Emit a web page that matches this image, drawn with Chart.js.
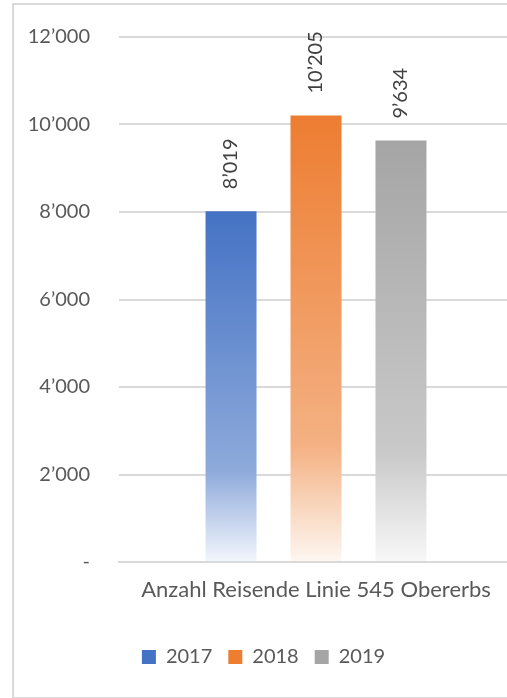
<!DOCTYPE html>
<html>
<head>
<meta charset="utf-8">
<script src="https://cdn.jsdelivr.net/npm/chart.js@4/dist/chart.umd.min.js"></script>
<style>
    html, body { margin: 0; padding: 0; background: #fff; overflow: hidden; }
    #frame {
        position: absolute; left: 12px; top: 3px;
        width: 520px; height: 692px;
        border: 2px solid #d9d9d9;
    }
    #wrap { position: absolute; left: 0; top: 0; width: 510px; height: 691px; }
</style>
</head>
<body>
<div id="frame"><div id="wrap"><canvas id="chart"></canvas></div></div>
<script>
// chart data
const categories = ['Anzahl Reisende Linie 545 Obererbs'];
const years = ['2017', '2018', '2019'];
const values2017 = [8019];
const values2018 = [10205];
const values2019 = [9634];
const yTicks = [0, 2000, 4000, 6000, 8000, 10000, 12000];

// colour stops per series: base, tint, near white
const colors = {
    '2017': ['#4472C4', '#8eaadb', '#f3f6fc'],
    '2018': ['#ED7D31', '#f4b183', '#fdf7f2'],
    '2019': ['#A5A5A5', '#c9c9c9', '#f8f8f8']
};

const textColor = '#595959';
const fontFamily = 'Lato, "Open Sans", sans-serif';

function fmt(v) {
    if (v === 0) return '-';
    return String(v).replace(/\B(?=(\d{3})+(?!\d))/g, '\u2019');
}

// gradient over each single bar, top to bottom
function barFill(year) {
    return ctx => {
        const chart = ctx.chart;
        const c = colors[year];
        if (!chart.chartArea || ctx.raw === undefined) return c[0];
        const y = chart.scales.y;
        const top = y.getPixelForValue(ctx.raw);
        const bottom = y.getPixelForValue(0);
        const g = chart.ctx.createLinearGradient(0, top, 0, bottom);
        g.addColorStop(0, c[0]);
        g.addColorStop(0.74, c[1]);
        g.addColorStop(1, c[2]);
        return g;
    };
}

// values written above the bars, turned upright
const valueLabels = {
    id: 'valueLabels',
    afterDatasetsDraw(chart) {
        const ctx = chart.ctx;
        ctx.save();
        ctx.font = '20px ' + fontFamily;
        ctx.fillStyle = '#404040';
        ctx.textAlign = 'left';
        ctx.textBaseline = 'middle';
        chart.data.datasets.forEach((ds, i) => {
            chart.getDatasetMeta(i).data.forEach((bar, j) => {
                ctx.save();
                ctx.translate(bar.x, bar.y - 22);
                ctx.rotate(-Math.PI / 2);
                ctx.fillText(fmt(ds.data[j]), 0, 0);
                ctx.restore();
            });
        });
        ctx.restore();
    }
};

const seriesData = [values2017, values2018, values2019];

new Chart(document.getElementById('chart'), {
    type: 'bar',
    data: {
        labels: categories,
        datasets: years.map((yr, i) => ({
            label: yr,
            data: seriesData[i],
            backgroundColor: barFill(yr),
            borderWidth: 0,
            categoryPercentage: 0.647,
            barPercentage: 0.6
        }))
    },
    options: {
        responsive: true,
        maintainAspectRatio: false,
        animation: false,
        layout: { padding: { top: 32, right: 11, left: 0, bottom: 19 } },
        scales: {
            x: {
                grid: { display: false, drawTicks: false },
                border: { color: '#d9d9d9', width: 2 },
                ticks: { color: textColor, font: { family: fontFamily, size: 22 }, padding: 15 },
                afterFit: s => { s.height = 69; }
            },
            y: {
                min: 0,
                max: 12000,
                afterBuildTicks: s => { s.ticks = yTicks.map(v => ({ value: v })); },
                grid: { color: '#d9d9d9', lineWidth: 2, drawTicks: false },
                border: { display: false },
                ticks: {
                    color: textColor,
                    font: { family: fontFamily, size: 20 },
                    padding: 29,
                    callback: v => fmt(v)
                },
                afterFit: s => {
                    s.width = 105;
                    s.paddingTop = 0;
                    s.paddingBottom = 0;
                }
            }
        },
        plugins: {
            legend: {
                position: 'bottom',
                labels: {
                    color: textColor,
                    font: { family: fontFamily, size: 20 },
                    boxWidth: 14,
                    boxHeight: 14,
                    padding: 16,
                    generateLabels: chart => chart.data.datasets.map((ds, i) => ({
                        text: ds.label,
                        fillStyle: colors[ds.label][0],
                        strokeStyle: colors[ds.label][0],
                        lineWidth: 0,
                        fontColor: textColor,
                        datasetIndex: i,
                        hidden: false
                    }))
                }
            },
            tooltip: { enabled: false }
        }
    },
    plugins: [valueLabels]
});
</script>
</body>
</html>
